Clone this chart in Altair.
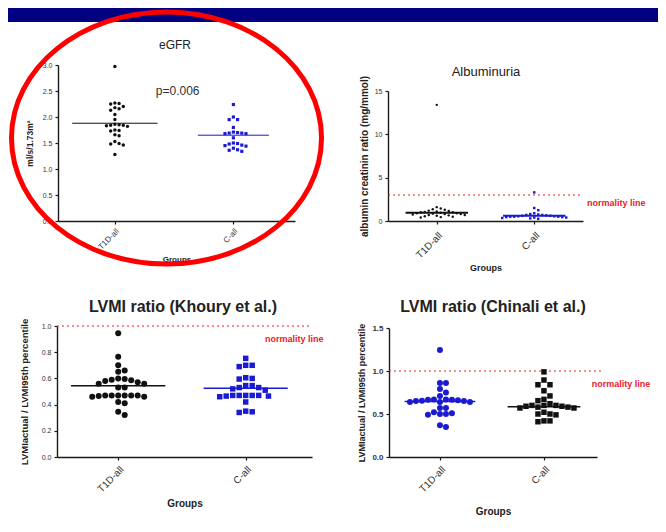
import altair as alt
import pandas as pd

# ---------------- data ----------------
GROUPS = ["T1D-all", "C-all"]

EGFR_T1D = [2.97, 2.27, 2.25, 2.26, 2.18, 2.16, 2.20, 2.13, 2.05, 1.95, 1.86, 1.84, 1.85,
            1.83, 1.84, 1.82, 1.75, 1.73, 1.74, 1.66, 1.64, 1.53, 1.48, 1.46, 1.49, 1.28]
EGFR_C = [2.24, 2.00, 1.95, 1.95, 1.80, 1.69, 1.70, 1.68, 1.71, 1.69, 1.68, 1.60, 1.49,
          1.46, 1.44, 1.45, 1.48, 1.50, 1.37, 1.34, 1.36, 1.40]
EGFR_MEDIAN = [1.88, 1.65]
EGFR_P = "p=0.006"

ALB_T1D = [13.4, 1.6, 1.45, 1.35, 1.3, 1.2, 1.15, 1.1, 1.05, 1.0, 1.0, 0.95, 0.9, 0.9,
           0.85, 0.8, 0.8, 0.75, 0.7, 0.7, 0.65, 0.6, 0.55, 0.5, 0.45, 0.4]
ALB_C = [3.3, 1.5, 1.25, 0.9, 0.8, 0.75, 0.7, 0.7, 0.65, 0.6, 0.6, 0.55, 0.55, 0.5, 0.5,
         0.5, 0.45, 0.45, 0.4, 0.4, 0.35, 0.3, 0.25]
ALB_MEDIAN = [0.95, 0.6]
ALB_NORMAL = 3.0

KH_T1D = [0.944, 0.766, 0.70, 0.65, 0.66, 0.595, 0.60, 0.58, 0.56, 0.59, 0.585, 0.57, 0.56,
          0.53, 0.53, 0.47, 0.47, 0.47, 0.47, 0.46, 0.46, 0.465, 0.47, 0.47, 0.42, 0.41,
          0.346, 0.32]
KH_C = [0.753, 0.70, 0.69, 0.70, 0.60, 0.595, 0.605, 0.545, 0.53, 0.51, 0.53, 0.52, 0.545,
        0.47, 0.47, 0.465, 0.465, 0.46, 0.47, 0.47, 0.47, 0.42, 0.35, 0.34, 0.345]
KH_MEDIAN = [0.544, 0.524]
KH_NORMAL = 1.0

CH_T1D = [1.245, 0.86, 0.86, 0.75, 0.79, 0.71, 0.67, 0.665, 0.66, 0.65, 0.64, 0.64, 0.64,
          0.65, 0.655, 0.665, 0.67, 0.57, 0.51, 0.50, 0.49, 0.50, 0.52, 0.57, 0.35, 0.37]
CH_C = [0.99, 0.895, 0.84, 0.84, 0.77, 0.71, 0.67, 0.655, 0.62, 0.60, 0.60, 0.59, 0.58,
        0.57, 0.57, 0.58, 0.59, 0.60, 0.50, 0.49, 0.50, 0.52, 0.42, 0.41, 0.42]
CH_MEDIAN = [0.645, 0.585]
CH_NORMAL = 1.0

# ---------------- layout / style ----------------
W, H = 650, 516
FONT = "Liberation Sans"
BLACK = "#111111"
BLUE = "#1a1ad0"
RED = "#e8202a"
ONE = alt.Data(values=[{}])


def swarm(vals, ppx, ppy, d):
    """Simple beeswarm: horizontal offsets (in x data units) avoiding overlap."""
    order = sorted(range(len(vals)), key=lambda i: -vals[i])
    placed = []
    out = [0.0] * len(vals)
    step = d * 0.5
    cands = [0.0]
    for k in range(1, 80):
        cands += [k * step, -k * step]
    for i in order:
        y = vals[i] * ppy
        for c in cands:
            if all((c - px) ** 2 + (y - py) ** 2 >= d * d for px, py in placed):
                break
        placed.append((c, y))
        out[i] = c / ppx
    return out


def make_panel(cfg, t1d, ctl, med, normal=None, extra=None):
    def sx():
        return alt.Scale(domain=cfg["xd"], range=cfg["xr"], nice=False, zero=False)

    def sy():
        return alt.Scale(domain=cfg["yd"], range=cfg["yr"], nice=False, zero=False)

    ppx = (cfg["xr"][1] - cfg["xr"][0]) / (cfg["xd"][1] - cfg["xd"][0])
    ppy = (cfg["yr"][0] - cfg["yr"][1]) / (cfg["yd"][1] - cfg["yd"][0])
    axx = alt.Axis(orient="bottom", offset=cfg["yr"][0] - H, values=[1, 2],
                   labelExpr="datum.value == 1 ? 'T1D-all' : 'C-all'",
                   labelAngle=-45, labelFontSize=cfg["xlab"], titleFontSize=cfg["xtit"],
                   title="Groups", titleFontWeight="bold", titlePadding=cfg["xtp"],
                   labelPadding=cfg["xlp"], tickSize=3, grid=False, labelFlush=False,
                   labelOverlap=False, domainWidth=1.4, tickWidth=1.2)
    axy = alt.Axis(orient="left", offset=-cfg["xr"][0], values=cfg["yticks"],
                   format=cfg["fmt"], labelFontSize=cfg["ylab"], title=cfg["ytitle"],
                   titleFontSize=cfg["ytit"], titleFontWeight="bold",
                   titlePadding=cfg["ytp"], labelPadding=3, tickSize=3, grid=False,
                   labelFlush=False, labelOverlap=False, domainWidth=1.4, tickWidth=1.2,
                   labelFontWeight=cfg.get("ylw", "normal"))
    layers = []
    if normal is not None:
        layers.append(
            alt.Chart(ONE).mark_rule(color=RED, strokeDash=[2, 3], strokeWidth=1.2).encode(
                x=alt.XDatum(cfg["xd"][0], type="quantitative", scale=sx(), axis=None),
                x2=alt.X2Datum(cfg["nx2"]),
                y=alt.YDatum(normal, type="quantitative", scale=sy(), axis=None)))
        layers.append(
            alt.Chart(ONE).mark_text(text="normality line", color=RED, fontSize=9,
                                     fontWeight="bold", font=FONT, align=cfg["nalign"],
                                     baseline="middle").encode(
                x=alt.XDatum(cfg["ntx"], type="quantitative", scale=sx(), axis=None),
                y=alt.YDatum(cfg["nty"], type="quantitative", scale=sy(), axis=None)))
    for gi, vals in enumerate([t1d, ctl]):
        offs = swarm(vals, ppx, ppy, cfg["d"])
        df = pd.DataFrame({"group": GROUPS[gi], "value": vals,
                           "x": [gi + 1 + o for o in offs]})
        st = cfg["styles"][gi]
        layers.append(
            alt.Chart(df).mark_point(filled=True, shape=st[0], size=st[1], color=st[2],
                                     opacity=1, strokeWidth=0).encode(
                x=alt.X("x:Q", scale=sx(), axis=axx if gi == 0 else None),
                y=alt.Y("value:Q", scale=sy(), axis=axy if gi == 0 else None)))
    for gi in range(2):
        half = cfg["half"][gi]
        dfm = pd.DataFrame({"lo": [gi + 1 - half], "hi": [gi + 1 + half], "m": [med[gi]]})
        layers.append(
            alt.Chart(dfm).mark_rule(color=cfg["styles"][gi][2], strokeWidth=cfg["mw"]).encode(
                x=alt.X("lo:Q", scale=sx(), axis=None), x2="hi:Q",
                y=alt.Y("m:Q", scale=sy(), axis=None)))
    if extra is not None:
        layers.append(
            alt.Chart(ONE).mark_text(text=extra[0], color="#333333", fontSize=12, font=FONT).encode(
                x=alt.XDatum(extra[1], type="quantitative", scale=sx(), axis=None),
                y=alt.YDatum(extra[2], type="quantitative", scale=sy(), axis=None)))
    return layers


cfgA = dict(xr=[50, 287], xd=[0.52, 2.52], yr=[213, 57], yd=[0, 3],
            yticks=[0, 0.5, 1.0, 1.5, 2.0, 2.5, 3.0], fmt=".1f", ytitle="ml/s/1.73m²",
            xlab=8, xtit=8, xtp=5, xlp=3, ylab=7, ytit=8.5, ytp=8, d=4.2,
            styles=[("circle", 12, BLACK), ("square", 10, BLUE)], half=[0.36, 0.30], mw=1)
cfgB = dict(xr=[380, 575], xd=[0.5, 2.5], yr=[213, 83], yd=[0, 15],
            yticks=[0, 5, 10, 15], fmt="d", ytitle="albumin creatinin ratio (mg/mmol)",
            xlab=10, xtit=9, xtp=4, xlp=6, ylab=7, ytit=10, ytp=5, d=4,
            styles=[("circle", 6, BLACK), ("square", 6, BLUE)], half=[0.32, 0.32], mw=2,
            nx2=2.5, ntx=2.54, nty=2.08, nalign="left")
cfgC = dict(xr=[49, 304], xd=[0.52, 2.52], yr=[449, 318], yd=[0, 1],
            yticks=[0, 0.2, 0.4, 0.6, 0.8, 1.0], fmt=".1f",
            ytitle="LVMIactual / LVMI95th percentile",
            xlab=10, xtit=10, xtp=5, xlp=4, ylab=7, ytit=9.5, ytp=12, d=6.5,
            styles=[("circle", 36, BLACK), ("square", 30, BLUE)], half=[0.37, 0.33], mw=1.5,
            nx2=2.52, ntx=2.61, nty=0.90, nalign="right")
cfgD = dict(xr=[381, 589], xd=[0.51, 2.51], yr=[449, 320], yd=[0, 1.5],
            yticks=[0, 0.5, 1.0, 1.5], fmt=".1f",
            ytitle="LVMIactual / LVMI95th percentile",
            xlab=10, xtit=10, xtp=13, xlp=4, ylab=8, ytit=9, ytp=5, d=6, ylw="bold",
            styles=[("circle", 36, BLUE), ("square", 30, BLACK)], half=[0.34, 0.35], mw=1.5,
            nx2=2.55, ntx=2.46, nty=0.85, nalign="left")

pA = make_panel(cfgA, EGFR_T1D, EGFR_C, EGFR_MEDIAN, extra=(EGFR_P, 1.53, 2.5))
pB = make_panel(cfgB, ALB_T1D, ALB_C, ALB_MEDIAN, normal=ALB_NORMAL)
pC = make_panel(cfgC, KH_T1D, KH_C, KH_MEDIAN, normal=KH_NORMAL)
pD = make_panel(cfgD, CH_T1D, CH_C, CH_MEDIAN, normal=CH_NORMAL)

band = alt.Chart(ONE).mark_rect(color="#000080").encode(
    x=alt.value(0), x2=alt.value(W), y=alt.value(0), y2=alt.value(14))

ELLIPSE = ("M-1,0C-1,-0.449,-0.5523,-0.813,0,-0.813C0.5523,-0.813,1,-0.449,1,0"
           "C1,0.449,0.5523,0.813,0,0.813C-0.5523,0.813,-1,0.449,-1,0Z")
ellipse = alt.Chart(ONE).mark_point(shape=ELLIPSE, size=310 * 310, filled=False,
                                    color="#ff0000", strokeWidth=5, opacity=1).encode(
    x=alt.value(158.5), y=alt.value(130))


def title(text, x, y, size, weight):
    return alt.Chart(ONE).mark_text(text=text, fontSize=size, fontWeight=weight, font=FONT,
                                    color="#222222", baseline="middle").encode(
        x=alt.value(x), y=alt.value(y))


titles = [title("eGFR", 167, 37, 12, "normal"),
          title("Albuminuria", 478, 64, 13, "normal"),
          title("LVMI  ratio (Khoury et al.)", 175, 299, 16, "bold"),
          title("LVMI ratio (Chinali et al.)", 485, 299, 16, "bold")]

chart = alt.layer(band, *pA, *pB, *pC, *pD, ellipse, *titles).resolve_scale(
    x="independent", y="independent").resolve_axis(
    x="independent", y="independent").properties(
    width=W, height=H, padding=0, background="white",
    autosize=alt.AutoSizeParams(type="none")).configure_view(stroke=None).configure_axis(
    labelFont=FONT, titleFont=FONT, domainColor="#1a1a1a", tickColor="#1a1a1a",
    labelColor="#333333", titleColor="#222222")

chart.save("out.html", embed_options={"renderer": "svg", "actions": False})
